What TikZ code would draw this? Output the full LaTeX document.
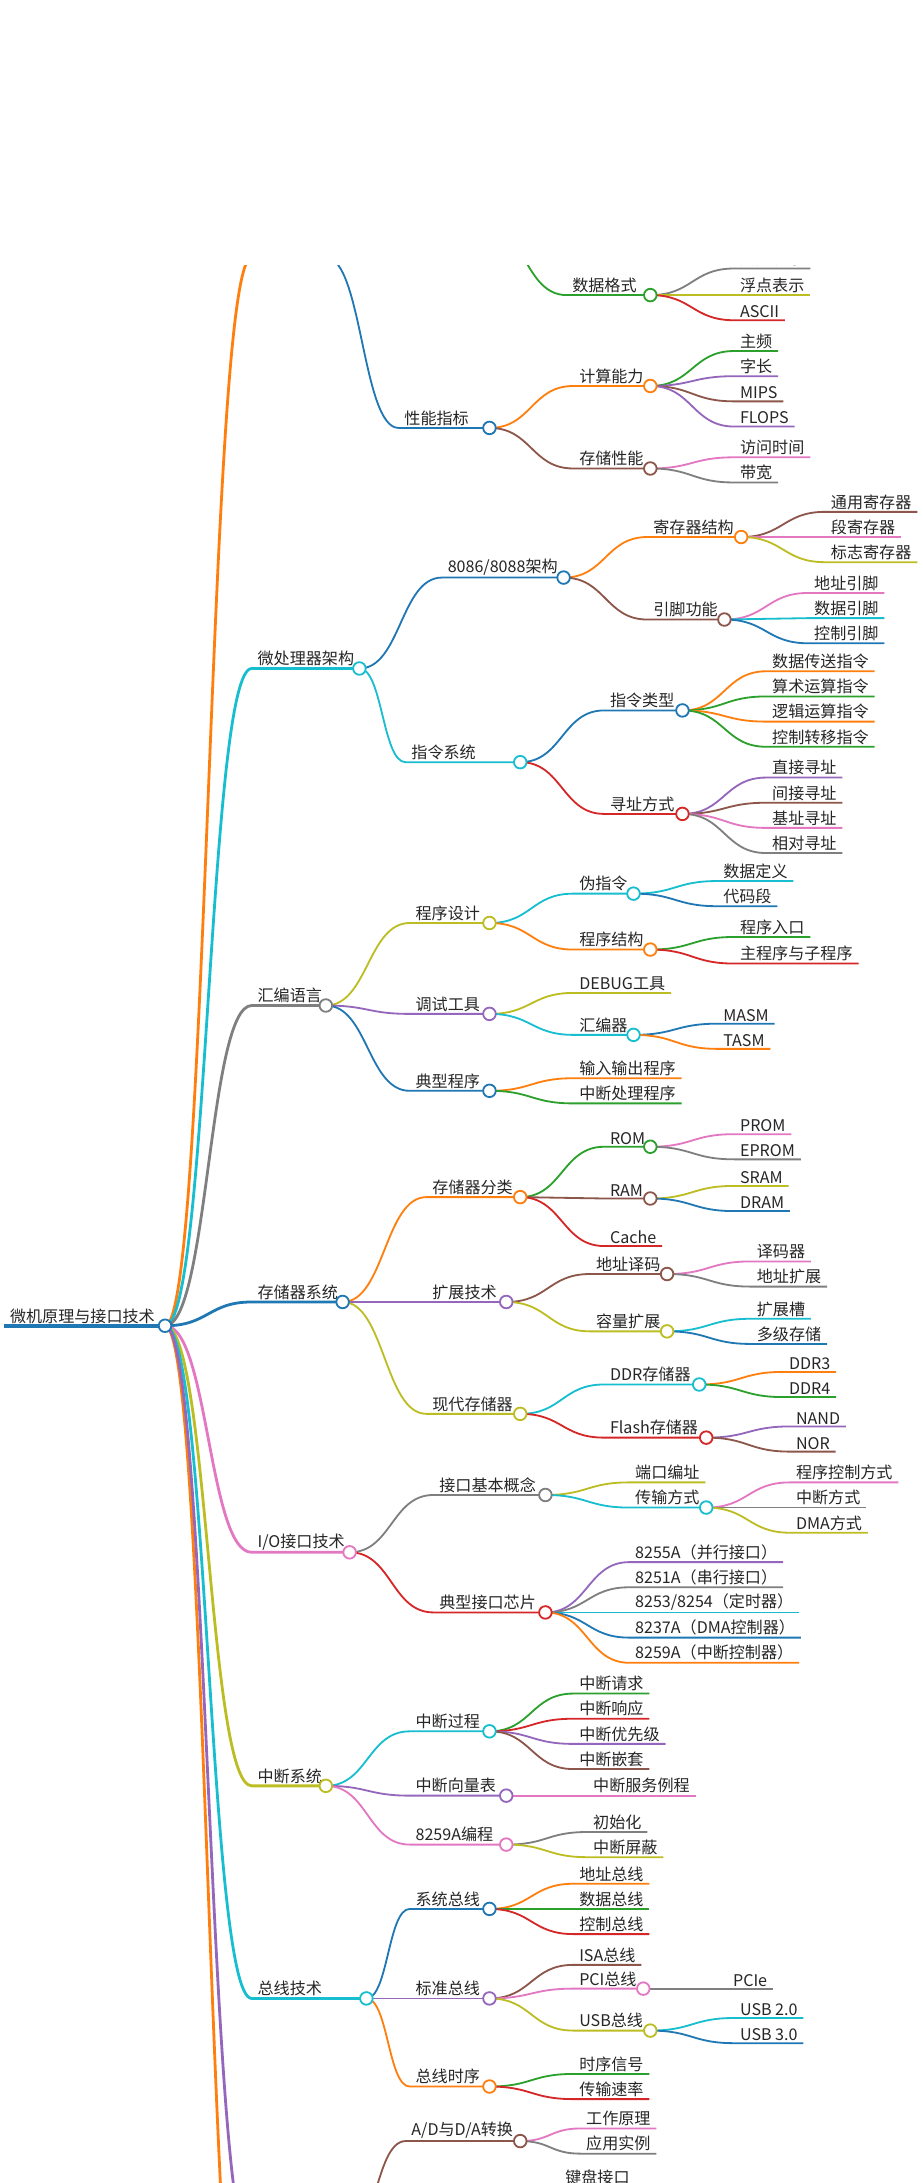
\documentclass[tikz,border=0pt]{standalone}
\usepackage{fontspec}
\setmainfont{Noto Sans CJK SC}
\usetikzlibrary{calc}
\definecolor{cB}{HTML}{1F77B4}\definecolor{cO}{HTML}{FF7F0E}\definecolor{cG}{HTML}{2CA02C}
\definecolor{cR}{HTML}{D62728}\definecolor{cV}{HTML}{9467BD}\definecolor{cBr}{HTML}{8C564B}
\definecolor{cP}{HTML}{E377C2}\definecolor{cGr}{HTML}{7F7F7F}\definecolor{cY}{HTML}{BCBD22}
\definecolor{cC}{HTML}{17BECF}
\tikzset{txt/.style={inner xsep=4pt,inner ysep=1.5pt,font=\fontsize{11.5}{13}\selectfont,text=black!85},
 ln/.style={line width=1.3pt},l1/.style={line width=2pt}}
\newcommand\circlist{}
\newcommand\mmdot[2]{\draw[#1,fill=white,line width=1.3pt] (#2) circle[radius=4.5pt];}
\newcommand\mmb[7]{%
 \draw[ln,#6] let \p1=(#1),\p2=(#3,#5) in (\p1) .. controls ({(\x1+\x2)/2},\y1) and ({(\x1+\x2)/2},\y2) .. (\p2) -- (#4,#5);
 \node[txt,anchor=south west] (#2t) at (#3,#5) {#7};
 \coordinate (#2) at (#4,#5);
 \expandafter\gdef\expandafter\circlist\expandafter{\circlist\mmdot{#6}{#2}}}
\newcommand\mml[6]{%
 \node[txt,anchor=south west] (#2t) at (#3,#4) {#6};
 \draw[ln,#5] let \p1=(#1),\p2=(#3,#4) in (\p1) .. controls ({(\x1+\x2)/2},\y1) and ({(\x1+\x2)/2},\y2) .. (\p2) -- (#2t.south east);}
\begin{document}
\begin{tikzpicture}[x=1pt,y=-1pt]
\useasboundingbox[fill=white] (0,0) rectangle (660,1561);
\begin{scope}
\clip (0,190) rectangle (660,1561);
\coordinate (R) at (118,948);
\node[txt,anchor=south west] (Rt) at (3,948) {微机原理与接口技术};
\mmb{R}{A}{180}{233}{184}{cO,l1}{}
\mmb{R}{B}{180}{257}{478}{cC,l1}{微处理器架构}
\mmb{R}{C}{180}{233}{719}{cGr,l1}{汇编语言}
\mmb{R}{D}{180}{245}{931}{cB,l1}{存储器系统}
\mmb{R}{E}{180}{250}{1110}{cP,l1}{I/O接口技术}
\mmb{R}{F}{180}{233}{1277}{cY,l1}{中断系统}
\mmb{R}{G}{180}{262}{1429}{cC,l1}{总线技术}
\mmb{R}{HO}{180}{245}{1760}{cO,l1}{}
\mmb{R}{HB}{180}{245}{1610}{cV,l1}{}
\draw[cB,line width=2.5pt] (Rt.south west) -- (R);
% section A
\coordinate (A2) at (340,150);
\mmb{A2}{A21}{405}{465}{211}{cG}{数据格式}
\mml{A21}{A211}{525}{192}{cGr}{定点表示}
\mml{A21}{A212}{525}{211}{cY}{浮点表示}
\mml{A21}{A213}{525}{229}{cR}{ASCII}
\mmb{A}{A3}{285}{350}{306}{cB}{性能指标}
\mmb{A3}{A31}{410}{465}{276}{cO}{计算能力}
\mml{A31}{A311}{525}{251}{cG}{主频}
\mml{A31}{A312}{525}{269}{cV}{字长}
\mml{A31}{A313}{525}{287}{cBr}{MIPS}
\mml{A31}{A314}{525}{305}{cV}{FLOPS}
\mmb{A3}{A32}{410}{465}{335}{cBr}{存储性能}
\mml{A32}{A321}{525}{327}{cP}{访问时间}
\mml{A32}{A322}{525}{345}{cGr}{带宽}
% section B
\mmb{B}{B1}{316}{403}{413}{cB}{8086/8088架构}
\mmb{B1}{B11}{463}{530}{384}{cO}{寄存器结构}
\mml{B11}{B111}{590}{366}{cBr}{通用寄存器}
\mml{B11}{B112}{590}{384}{cP}{段寄存器}
\mml{B11}{B113}{590}{402}{cY}{标志寄存器}
\mmb{B1}{B12}{463}{518}{443}{cBr}{引脚功能}
\mml{B12}{B121}{578}{424}{cP}{地址引脚}
\mml{B12}{B122}{578}{442}{cC}{数据引脚}
\mml{B12}{B123}{578}{460}{cB}{控制引脚}
\mmb{B}{B2}{290}{372}{545}{cC}{指令系统}
\mmb{B2}{B21}{432}{488}{508}{cB}{指令类型}
\mml{B21}{B211}{548}{480}{cO}{数据传送指令}
\mml{B21}{B212}{548}{498}{cG}{算术运算指令}
\mml{B21}{B213}{548}{516}{cO}{逻辑运算指令}
\mml{B21}{B214}{548}{534}{cG}{控制转移指令}
\mmb{B2}{B22}{432}{488}{582}{cR}{寻址方式}
\mml{B22}{B221}{548}{556}{cV}{直接寻址}
\mml{B22}{B222}{548}{574}{cBr}{间接寻址}
\mml{B22}{B223}{548}{592}{cP}{基址寻址}
\mml{B22}{B224}{548}{610}{cGr}{相对寻址}
% section C
\mmb{C}{C1}{293}{350}{660}{cY}{程序设计}
\mmb{C1}{C11}{410}{453}{639}{cC}{伪指令}
\mml{C11}{C111}{513}{630}{cC}{数据定义}
\mml{C11}{C112}{513}{648}{cB}{代码段}
\mmb{C1}{C12}{410}{465}{679}{cO}{程序结构}
\mml{C12}{C121}{525}{670}{cG}{程序入口}
\mml{C12}{C122}{525}{689}{cR}{主程序与子程序}
\mmb{C}{C2}{293}{350}{725}{cV}{调试工具}
\mml{C2}{C21}{410}{710}{cY}{DEBUG工具}
\mmb{C2}{C22}{410}{453}{740}{cC}{汇编器}
\mml{C22}{C221}{513}{732}{cB}{MASM}
\mml{C22}{C222}{513}{750}{cO}{TASM}
\mmb{C}{C3}{293}{350}{780}{cB}{典型程序}
\mml{C3}{C31}{410}{771}{cO}{输入输出程序}
\mml{C3}{C32}{410}{789}{cG}{中断处理程序}
% section D
\mmb{D}{D1}{305}{372}{856}{cO}{存储器分类}
\mmb{D1}{D11}{432}{465}{820}{cG}{ROM}
\mml{D11}{D111}{525}{811}{cP}{PROM}
\mml{D11}{D112}{525}{829}{cGr}{EPROM}
\mmb{D1}{D12}{432}{465}{857}{cBr}{RAM}
\mml{D12}{D121}{525}{848}{cY}{SRAM}
\mml{D12}{D122}{525}{866}{cB}{DRAM}
\mml{D1}{D13}{432}{891}{cR}{Cache}
\mmb{D}{D2}{305}{362}{931}{cV}{扩展技术}
\mmb{D2}{D21}{422}{477}{911}{cBr}{地址译码}
\mml{D21}{D211}{537}{902}{cP}{译码器}
\mml{D21}{D212}{537}{920}{cGr}{地址扩展}
\mmb{D2}{D22}{422}{477}{952}{cY}{容量扩展}
\mml{D22}{D221}{537}{943}{cC}{扩展槽}
\mml{D22}{D222}{537}{961}{cB}{多级存储}
\mmb{D}{D3}{305}{372}{1011}{cY}{现代存储器}
\mmb{D3}{D31}{432}{500}{990}{cC}{DDR存储器}
\mml{D31}{D311}{560}{981}{cO}{DDR3}
\mml{D31}{D312}{560}{999}{cG}{DDR4}
\mmb{D3}{D32}{432}{505}{1028}{cR}{Flash存储器}
\mml{D32}{D321}{565}{1020}{cV}{NAND}
\mml{D32}{D322}{565}{1038}{cBr}{NOR}
% section E
\mmb{E}{E1}{310}{390}{1069}{cGr}{接口基本概念}
\mml{E1}{E11}{450}{1060}{cY}{端口编址}
\mmb{E1}{E12}{450}{505}{1078}{cC}{传输方式}
\mml{E12}{E121}{565}{1060}{cP}{程序控制方式}
\mml{E12}{E122}{565}{1078}{cGr}{中断方式}
\mml{E12}{E123}{565}{1096}{cY}{DMA方式}
\mmb{E}{E2}{310}{390}{1153}{cR}{典型接口芯片}
\mml{E2}{E21}{450}{1117}{cV}{8255A（并行接口）}
\mml{E2}{E22}{450}{1135}{cGr}{8251A（串行接口）}
\mml{E2}{E23}{450}{1153}{cC}{8253/8254（定时器）}
\mml{E2}{E24}{450}{1171}{cB}{8237A（DMA控制器）}
\mml{E2}{E25}{450}{1189}{cO}{8259A（中断控制器）}
% section F
\mmb{F}{F1}{293}{350}{1238}{cC}{中断过程}
\mml{F1}{F11}{410}{1211}{cG}{中断请求}
\mml{F1}{F12}{410}{1229}{cR}{中断响应}
\mml{F1}{F13}{410}{1247}{cV}{中断优先级}
\mml{F1}{F14}{410}{1265}{cBr}{中断嵌套}
\mmb{F}{F2}{293}{362}{1284}{cV}{中断向量表}
\mml{F2}{F21}{420}{1284}{cP}{中断服务例程}
\mmb{F}{F3}{293}{362}{1319}{cP}{8259A编程}
\mml{F3}{F31}{420}{1310}{cGr}{初始化}
\mml{F3}{F32}{420}{1328}{cY}{中断屏蔽}
% section G
\mmb{G}{G1}{293}{350}{1365}{cB}{系统总线}
\mml{G1}{G11}{410}{1347}{cO}{地址总线}
\mml{G1}{G12}{410}{1365}{cG}{数据总线}
\mml{G1}{G13}{410}{1383}{cR}{控制总线}
\mmb{G}{G2}{293}{350}{1429}{cV}{标准总线}
\mml{G2}{G21}{410}{1405}{cBr}{ISA总线}
\mmb{G2}{G22}{410}{460}{1422}{cP}{PCI总线}
\mml{G22}{G221}{520}{1422}{cGr}{PCIe}
\mmb{G2}{G23}{410}{465}{1452}{cY}{USB总线}
\mml{G23}{G231}{525}{1443}{cC}{USB 2.0}
\mml{G23}{G232}{525}{1461}{cB}{USB 3.0}
\mmb{G}{G3}{293}{350}{1492}{cO}{总线时序}
\mml{G3}{G31}{410}{1483}{cG}{时序信号}
\mml{G3}{G32}{410}{1501}{cR}{传输速率}
% bottom
\mmb{HB}{H1}{290}{372}{1531}{cBr}{A/D与D/A转换}
\mml{H1}{H11}{415}{1522}{cP}{工作原理}
\mml{H1}{H12}{415}{1540}{cGr}{应用实例}
\mmb{HB}{H2}{290}{372}{1600}{cBr}{}
\mml{H2}{H21}{400}{1564}{cC}{键盘接口}
\circlist
\draw[cB,fill=white,line width=1.3pt] (R) circle[radius=4.5pt];
\end{scope}
\end{tikzpicture}
\end{document}
